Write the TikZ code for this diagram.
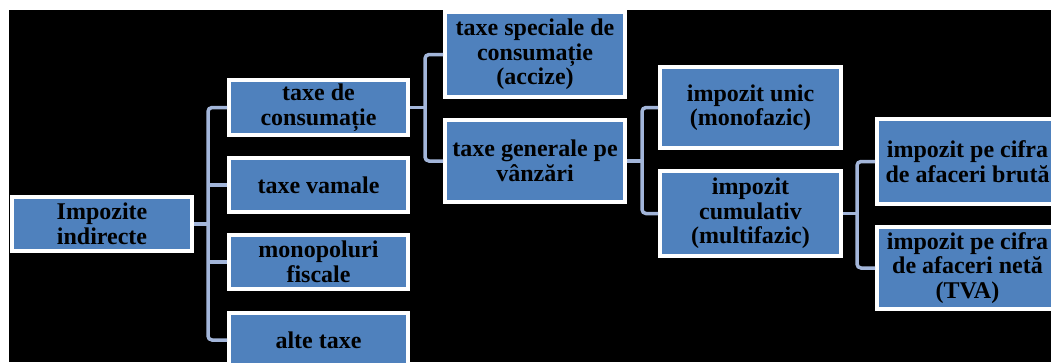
\documentclass[tikz,border=0pt]{standalone}
\usepackage{fontspec}
\setmainfont{Liberation Serif}
\definecolor{boxblue}{HTML}{4F81BD}
\definecolor{connblue}{HTML}{A3B6DA}
\begin{document}
\begin{tikzpicture}[x=1pt,y=-1pt,
  bx/.style={draw=white, line width=4pt, fill=boxblue, inner sep=0pt,
    align=center, text=black,
    font=\bfseries\fontsize{24}{24.5}\selectfont},
  conn/.style={draw=connblue, line width=3.5pt}]
\useasboundingbox (0,0) rectangle (1051,362);
\clip (0,0) rectangle (1051,362);
\fill[white] (0,0) rectangle (1051,362);
\fill[black] (9,10) rectangle (1051,362);

% level 0
\node[bx, minimum width=180, minimum height=54] (imp) at (102,224) {Impozite\\indirecte};
% level 1
\node[bx, minimum width=179, minimum height=55] (cons) at (318.5,107.5) {taxe de\\consumație};
\node[bx, minimum width=179, minimum height=54] (vam) at (318.5,185) {taxe vamale};
\node[bx, minimum width=179, minimum height=54] (mono) at (318.5,262) {monopoluri\\fiscale};
\node[bx, minimum width=179, minimum height=54] (alte) at (318.5,340) {alte taxe};
% level 2
\node[bx, minimum width=180, minimum height=85] (spec) at (535,54.5) {taxe speciale de\\consumație\\(accize)};
\node[bx, minimum width=180, minimum height=82] (gen) at (535,161) {taxe generale pe\\vânzări};
% level 3
\node[bx, minimum width=181, minimum height=81] (unic) at (750.5,107.5) {impozit unic\\(monofazic)};
\node[bx, minimum width=181, minimum height=85] (cum) at (750.5,213.5) {impozit\\cumulativ\\(multifazic)};
% level 4
\node[bx, minimum width=181, minimum height=85] (bruta) at (967.5,161.5) {impozit pe cifra\\de afaceri brută};
\node[bx, minimum width=181, minimum height=82] (neta) at (967.5,268) {impozit pe cifra\\de afaceri netă\\(TVA)};

% connectors level 0 -> 1
\draw[conn] (imp.east) -- ++(14,0) coordinate (t1);
\draw[conn, rounded corners=4] (cons.west) -| (t1 |- alte.west) -- (alte.west);
\draw[conn] (vam.west) -- (vam.west -| t1);
\draw[conn] (mono.west) -- (mono.west -| t1);

% connectors cons -> spec, gen
\draw[conn] (cons.east) -- ++(15,0) coordinate (t2);
\draw[conn, rounded corners=4] (spec.west) -| (t2 |- gen.west) -- (gen.west);

% connectors gen -> unic, cum
\draw[conn] (gen.east) -- ++(15,0) coordinate (t3);
\draw[conn, rounded corners=4] (unic.west) -| (t3 |- cum.west) -- (cum.west);

% connectors cum -> bruta, neta
\draw[conn] (cum.east) -- ++(14,0) coordinate (t4);
\draw[conn, rounded corners=4] (bruta.west) -| (t4 |- neta.west) -- (neta.west);
\end{tikzpicture}
\end{document}
